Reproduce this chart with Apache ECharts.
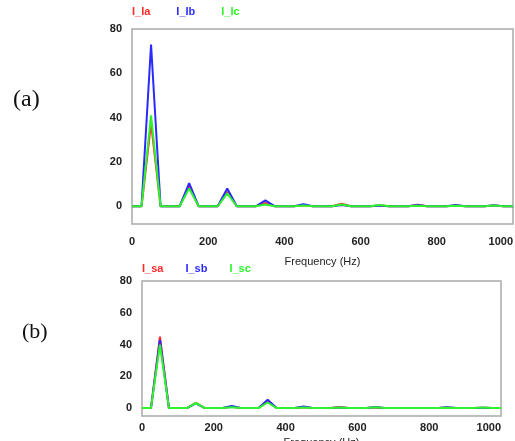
<!DOCTYPE html>
<html>
<head>
<meta charset="utf-8">
<script src="https://cdn.jsdelivr.net/npm/echarts@6/dist/echarts.min.js"></script>
<style>html,body{margin:0;padding:0;background:#fff;}#c{width:515px;height:441px;}</style>
</head>
<body>
<div id="c"></div>
<script>
// Frequency bins (Hz)
const freq = [0,25,50,75,100,125,150,175,200,225,250,275,300,325,350,375,400,425,450,475,500,525,550,575,600,625,650,675,700,725,750,775,800,825,850,875,900,925,950,975,1000];
// Panel (a) amplitudes
const I_Ia = [0,0,37.5,0,0,0,9,0,0,0,6.5,0,0,0,1.5,0,0,0,0.5,0,0,0,1.2,0,0,0,0.4,0,0,0,0.7,0,0,0,0.4,0,0,0,0.3,0,0];
const I_Ib = [0,0,73,0,0,0,10.5,0,0,0,8,0,0,0,2.7,0,0,0,0.9,0,0,0,0.6,0,0,0,0.3,0,0,0,0.6,0,0,0,0.6,0,0,0,0.5,0,0];
const I_Ic = [0,0,41,0,0,0,8,0,0,0,5.8,0,0,0,0.8,0,0,0,0.3,0,0,0,0.8,0,0,0,0.6,0,0,0,0.2,0,0,0,0.2,0,0,0,0.3,0,0];
// Panel (b) amplitudes
const I_sa = [0,0,45,0,0,0,3.3,0,0,0,0.8,0,0,0,4.5,0,0,0,0.5,0,0,0,0.6,0,0,0,0.4,0,0,0,0.1,0,0,0,0.3,0,0,0,0.2,0,0];
const I_sb = [0,0,43,0,0,0,3,0,0,0,1.3,0,0,0,5.3,0,0,0,1,0,0,0,0.3,0,0,0,0.6,0,0,0,0.1,0,0,0,0.5,0,0,0,0.2,0,0];
const I_sc = [0,0,40,0,0,0,3.2,0,0,0,0.5,0,0,0,3.5,0,0,0,0.3,0,0,0,0.3,0,0,0,0.5,0,0,0,0.1,0,0,0,0.2,0,0,0,0.3,0,0];
const xTicks = [0,200,400,600,800,1000];
const yTicks = [0,20,40,60,80];

const RED = '#ff2a2a', BLUE = '#2a2aff', GREEN = '#2cf52c';
const FONT = 'Liberation Sans, Arial, sans-serif';
const pairs = arr => freq.map((f, i) => [f, arr[i]]);

function xAxis(gi, margin, nameGap) {
  return {
    type: 'value', gridIndex: gi, min: 0, max: 1000, interval: 200,
    axisLine: {show: false}, axisTick: {show: false}, splitLine: {show: false},
    axisLabel: {margin: margin, fontSize: 11, fontWeight: 'bold', color: '#222', fontFamily: FONT,
      alignMaxLabel: 'right', formatter: v => xTicks.includes(v) ? String(v) : ''},
    name: 'Frequency (Hz)', nameLocation: 'middle', nameGap: nameGap,
    nameTextStyle: {fontSize: 11, color: '#222', fontFamily: FONT}
  };
}
function yAxis(gi, min, interval) {
  return {
    type: 'value', gridIndex: gi, min: min, max: 80, interval: interval,
    axisLine: {show: false}, axisTick: {show: false}, splitLine: {show: false},
    axisLabel: {margin: 10, fontSize: 11, fontWeight: 'bold', color: '#222', fontFamily: FONT,
      formatter: v => yTicks.includes(v) ? String(v) : ''}
  };
}
function line(name, data, color, gi) {
  return {name: name, type: 'line', xAxisIndex: gi, yAxisIndex: gi, data: pairs(data),
    symbol: 'none', lineStyle: {color: color, width: 2}, itemStyle: {color: color}, animation: false};
}
function legend(names, colors, left, top, gap) {
  return {
    left: left, top: top, itemWidth: 0, itemHeight: 0, itemGap: gap, icon: 'rect', padding: 0,
    selectedMode: false,
    data: names.map((n, i) => ({name: n, textStyle: {color: colors[i], fontSize: 11, fontWeight: 'bold', fontFamily: FONT}}))
  };
}

const chart = echarts.init(document.getElementById('c'), null, {renderer: 'canvas'});
chart.setOption({
  backgroundColor: '#fff',
  animation: false,
  grid: [
    {left: 132, top: 29, right: 2, height: 195, show: true, borderColor: '#a9a9a9', borderWidth: 1.5, backgroundColor: '#fff', outerBoundsMode: 'none', containLabel: false},
    {left: 142, top: 281, right: 14, height: 135, show: true, borderColor: '#a9a9a9', borderWidth: 1.5, backgroundColor: '#fff', outerBoundsMode: 'none', containLabel: false}
  ],
  legend: [
    legend(['I_Ia','I_Ib','I_Ic'], [RED, BLUE, GREEN], 127, 6, 21),
    legend(['I_sa','I_sb','I_sc'], [RED, BLUE, GREEN], 137, 263, 17)
  ],
  xAxis: [xAxis(0, 12, 32), xAxis(1, 6, 21)],
  yAxis: [yAxis(0, -8, 4), yAxis(1, -5, 5)],
  series: [
    line('I_Ia', I_Ia, RED, 0), line('I_Ib', I_Ib, BLUE, 0), line('I_Ic', I_Ic, GREEN, 0),
    line('I_sa', I_sa, RED, 1), line('I_sb', I_sb, BLUE, 1), line('I_sc', I_sc, GREEN, 1)
  ],
  graphic: [
    {type: 'text', left: 13, top: 88, style: {text: '(a)', font: '24px "Liberation Serif", serif', fill: '#111'}},
    {type: 'text', left: 22, top: 321, style: {text: '(b)', font: '22px "Liberation Serif", serif', fill: '#111'}}
  ]
});
</script>
</body>
</html>
